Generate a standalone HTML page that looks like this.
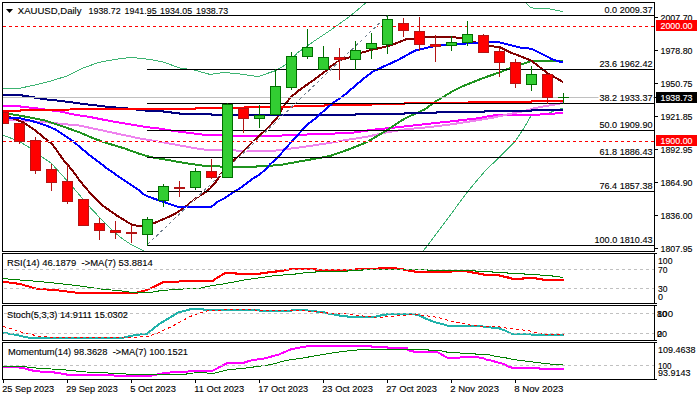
<!DOCTYPE html>
<html><head><meta charset="utf-8"><style>
html,body{margin:0;padding:0;background:#fff;width:700px;height:400px;overflow:hidden}
svg{display:block}
text{font-family:"Liberation Sans",sans-serif;stroke:currentColor;stroke-width:0.12px}
</style></head><body>
<svg width="700" height="400" viewBox="0 0 700 400">
<rect x="0" y="0" width="700" height="400" fill="#fff"/>
<defs><clipPath id="cm"><rect x="3" y="3" width="651" height="248"/></clipPath><clipPath id="cr"><rect x="3" y="254" width="651" height="49"/></clipPath><clipPath id="cs"><rect x="3" y="306" width="651" height="34"/></clipPath><clipPath id="cmo"><rect x="3" y="343" width="651" height="36"/></clipPath></defs>
<g clip-path="url(#cm)">
<polyline points="3,88.4 19,88.4 35,85 51,81 67,76 83,68 99,62.4 115,59.4 131,57.4 150,59.4 163,62 180,68 194,70 210,74.4 224,72.4 240,74 258,76.6 276,70.5 287.5,63.75 297.5,52.75 315,40.5 330.75,30 350,16.25 368,1 524,1 531,7.9 549,8.75 563,11.7" fill="none" stroke="#3cb371" stroke-width="1" stroke-linejoin="round" shape-rendering="crispEdges"/>
<polyline points="3,135.2 19,141.2 30,148 41,156.2 51,163 62,175 74,188.5 82,198 90,207.25 101,219 113,231 122,238.5 131,244.5 143,250.5 147,253 421.5,253 428,245 468,191.2 485,171 499.2,157.35 507,149.5 515,141.4 522.75,130 531.5,115 547,114 552.5,111.6 563,108.1" fill="none" stroke="#3cb371" stroke-width="1" stroke-linejoin="round" shape-rendering="crispEdges"/>
<polyline points="3,105.75 19.5,105.75 21,106.8 34.5,108 45,109.5 60,111.5 75,114.75 90,117 105,120 120,122.7 135,125.25 150,127.5 158.75,128.5 177.5,131.5 196.25,133.75 203.75,134.7 222.5,135 244,136.4 260,136.4 280,135.6 310,134.4 330,133.8 354,132.5 373,129.7 392,127.8 404,126.5 428,123.8 450,121.5 480,118 491,115.75 500,114.6 511.5,115.2 531.5,115.1 547,114 563,113" fill="none" stroke="#ff00ff" stroke-width="2" stroke-linejoin="round" shape-rendering="crispEdges"/>
<polyline points="3,119.5 30,121.25 45,122 60,123.75 80,125.6 92.5,128.4 105,131 120,134.25 140,138.5 158.75,141.6 177.5,145 196.25,148.4 205.6,149.7 222.5,149.7 244,151 260,151 276,150.5 310,146 330,142.8 348.75,139.6 367.5,136.6 386.25,132.5 404,129.5 428,127.2 450,124.5 480,119.9 495,117.25 510,113.9 525,110.9 535,108 563,103" fill="none" stroke="#ee82ee" stroke-width="2" stroke-linejoin="round" shape-rendering="crispEdges"/>
<polyline points="3,113 9,113.75 30,117.5 45,120.5 60,125.5 80,132.5 92.5,138 105,142.5 125,148.6 140,154 151.25,157.2 168,160 186.9,163.4 205.6,166 222.5,166.6 240,167 260,166.4 280,165 310,159.6 330,156 348.75,149.4 367.5,141.9 386.25,130.6 405,118.4 425,109.2 434.4,102.2 443.75,96.6 453,91 462.5,86.25 481.25,78.75 500,72.2 509.4,68.4 521,64.5 526,63 531,61 563,61" fill="none" stroke="#1f931f" stroke-width="2" stroke-linejoin="round" shape-rendering="crispEdges"/>
<polyline points="3,114 9,116.75 24,122.75 36,131 45,138.5 52.5,144.5 63.5,160 72.5,170.5 80,181 87.5,190 95,198 102.5,205.5 110,210.75 117.5,216 125,220.5 131,224.25 140,226.5 147,225.75 152.5,223.75 170,216.25 175,213.9 182.5,209 190,203 197.5,197 205,192.5 210,188.5 215,183 222,172.5 233,161 240,155 245,149.5 255,139.5 267,129 277,117.75 284,105.5 291,97 298.5,90.75 306.25,85.2 315,79 325.5,71.2 332.5,65 341.25,59.75 350.25,57.1 362.5,52.4 373,49.4 380,48 390.5,45.4 397.5,42.75 406.25,39.25 415,38.4 426,37 450,37 462,38 474,42 490,46 500,47.2 510.5,52.5 521,56.5 531.25,60.6 536.25,64.4 542.5,69.4 547.5,73.1 555,77.5 563,82" fill="none" stroke="#800000" stroke-width="2" stroke-linejoin="round" shape-rendering="crispEdges"/>
<polyline points="3,95 19.5,95 30,96.75 45,99.3 60,100.8 82.5,103.8 105,106.5 127.5,108.5 140,110 150,111 163,111 163.5,112 171,112 171.5,113 179,113 179.5,114 211,114 211.5,115 355,115 355.5,114 404,114 404.5,113 436,113 436.5,112 484,112 484.5,111 531,111 531.5,110 563,110" fill="none" stroke="#000080" stroke-width="2" stroke-linejoin="round" shape-rendering="crispEdges"/>
<polyline points="3,111 19.5,111 21,110.25 70,109.5 140,109 195.5,109 196,108 244,108 244.5,107 292,107 292.5,106 324,106 324.5,105 371,105 371.5,104 404,104 404.5,103 468,103 468.5,102 531,102 531.5,101 563,101" fill="none" stroke="#ff0000" stroke-width="2" stroke-linejoin="round" shape-rendering="crispEdges"/>
<polyline points="3,117.4 19.5,118.25 30,120.5 45,125 55.5,129.5 72.5,140.75 90,155.6 107.5,168.75 125,181 137.5,189 144.5,195 152,198 164,202 178,206.9 211.25,206.9 217.5,201.9 223.75,198.75 230,194.4 236.25,190.6 240,188.1 246.25,183.75 252.5,178.75 258.75,175 265,170 270,164.4 277.5,157.5 283.75,150.6 287.5,146.25 292.5,140.6 296.25,136.75 301.25,131.1 308.75,123.6 315,118.75 321.25,113.1 327.5,107.5 333.75,102.5 343.75,95.6 352,88.5 362.5,79.5 373,71.6 380,68.2 397.5,60.25 415,50.6 420,49.6 430,47 440,45 460,44 480,42.4 498,42 510,45 520,47.5 531.25,48.75 538.75,52.5 545,55.6 552.5,59.4 563,62.5" fill="none" stroke="#0000ff" stroke-width="2" stroke-linejoin="round" shape-rendering="crispEdges"/>
<rect x="3" y="97" width="651" height="1" fill="#c0c0c0"/>
<rect x="3" y="26" width="651" height="1" fill="#fff"/>
<line x1="3" y1="26.5" x2="654" y2="26.5" stroke="#ff0000" stroke-width="1" stroke-dasharray="3 3" stroke-dashoffset="0"/>
<rect x="3" y="141" width="651" height="1" fill="#fff"/>
<line x1="3" y1="141.5" x2="654" y2="141.5" stroke="#ff0000" stroke-width="1" stroke-dasharray="3 3" stroke-dashoffset="0"/>
<rect x="147" y="15" width="507" height="1" fill="#000"/>
<rect x="147" y="69" width="507" height="1" fill="#000"/>
<rect x="147" y="103" width="507" height="1" fill="#000"/>
<rect x="147" y="130" width="507" height="1" fill="#000"/>
<rect x="147" y="157" width="507" height="1" fill="#000"/>
<rect x="147" y="191" width="507" height="1" fill="#000"/>
<rect x="147" y="245" width="507" height="1" fill="#000"/>
<line x1="147.5" y1="244.5" x2="387.5" y2="15.5" stroke="#fff" stroke-width="1" shape-rendering="crispEdges"/>
<line x1="147.5" y1="244.5" x2="387.5" y2="15.5" stroke="#708090" stroke-width="1" stroke-dasharray="3 3" shape-rendering="crispEdges"/>
<rect x="3" y="112" width="1" height="12" fill="#b41414"/>
<rect x="-2" y="112" width="11" height="12" fill="#b41414"/>
<rect x="-1" y="113" width="9" height="10" fill="#ff0000"/>
<rect x="19" y="123" width="1" height="21" fill="#b41414"/>
<rect x="14" y="123" width="11" height="19" fill="#b41414"/>
<rect x="15" y="124" width="9" height="17" fill="#ff0000"/>
<rect x="35" y="137" width="1" height="37" fill="#b41414"/>
<rect x="30" y="140" width="11" height="31" fill="#b41414"/>
<rect x="31" y="141" width="9" height="29" fill="#ff0000"/>
<rect x="51" y="164" width="1" height="27" fill="#b41414"/>
<rect x="46" y="169" width="11" height="14" fill="#b41414"/>
<rect x="47" y="170" width="9" height="12" fill="#ff0000"/>
<rect x="67" y="164" width="1" height="40" fill="#b41414"/>
<rect x="62" y="181" width="11" height="21" fill="#b41414"/>
<rect x="63" y="182" width="9" height="19" fill="#ff0000"/>
<rect x="83" y="199" width="1" height="27" fill="#b41414"/>
<rect x="78" y="199" width="11" height="27" fill="#b41414"/>
<rect x="79" y="200" width="9" height="25" fill="#ff0000"/>
<rect x="99" y="218" width="1" height="22" fill="#b41414"/>
<rect x="94" y="223" width="11" height="8" fill="#b41414"/>
<rect x="95" y="224" width="9" height="6" fill="#ff0000"/>
<rect x="115" y="221" width="1" height="18" fill="#b41414"/>
<rect x="110" y="230" width="11" height="3" fill="#b41414"/>
<rect x="111" y="231" width="9" height="1" fill="#ff0000"/>
<rect x="131" y="225" width="1" height="18" fill="#b41414"/>
<rect x="126" y="232" width="11" height="2" fill="#b41414"/>
<rect x="147" y="217" width="1" height="29" fill="#006e00"/>
<rect x="142" y="219" width="11" height="16" fill="#006e00"/>
<rect x="143" y="220" width="9" height="14" fill="#32cd32"/>
<rect x="163" y="184" width="1" height="23" fill="#006e00"/>
<rect x="158" y="186" width="11" height="15" fill="#006e00"/>
<rect x="159" y="187" width="9" height="13" fill="#32cd32"/>
<rect x="179" y="181" width="1" height="16" fill="#b41414"/>
<rect x="174" y="187" width="11" height="2" fill="#b41414"/>
<rect x="195" y="168" width="1" height="22" fill="#006e00"/>
<rect x="190" y="171" width="11" height="17" fill="#006e00"/>
<rect x="191" y="172" width="9" height="15" fill="#32cd32"/>
<rect x="211" y="159" width="1" height="20" fill="#b41414"/>
<rect x="206" y="171" width="11" height="7" fill="#b41414"/>
<rect x="207" y="172" width="9" height="5" fill="#ff0000"/>
<rect x="227" y="103" width="1" height="75" fill="#006e00"/>
<rect x="222" y="104" width="11" height="74" fill="#006e00"/>
<rect x="223" y="105" width="9" height="72" fill="#32cd32"/>
<rect x="243" y="108" width="1" height="25" fill="#b41414"/>
<rect x="238" y="108" width="11" height="11" fill="#b41414"/>
<rect x="239" y="109" width="9" height="9" fill="#ff0000"/>
<rect x="259" y="105" width="1" height="23" fill="#006e00"/>
<rect x="254" y="115" width="11" height="4" fill="#006e00"/>
<rect x="255" y="116" width="9" height="2" fill="#32cd32"/>
<rect x="275" y="69" width="1" height="46" fill="#006e00"/>
<rect x="270" y="86" width="11" height="29" fill="#006e00"/>
<rect x="271" y="87" width="9" height="27" fill="#32cd32"/>
<rect x="291" y="52" width="1" height="38" fill="#006e00"/>
<rect x="286" y="56" width="11" height="32" fill="#006e00"/>
<rect x="287" y="57" width="9" height="30" fill="#32cd32"/>
<rect x="307" y="29" width="1" height="30" fill="#006e00"/>
<rect x="302" y="47" width="11" height="10" fill="#006e00"/>
<rect x="303" y="48" width="9" height="8" fill="#32cd32"/>
<rect x="323" y="46" width="1" height="24" fill="#006e00"/>
<rect x="318" y="57" width="11" height="13" fill="#006e00"/>
<rect x="319" y="58" width="9" height="11" fill="#32cd32"/>
<rect x="339" y="48" width="1" height="32" fill="#b41414"/>
<rect x="334" y="57" width="11" height="3" fill="#b41414"/>
<rect x="335" y="58" width="9" height="1" fill="#ff0000"/>
<rect x="355" y="41" width="1" height="29" fill="#006e00"/>
<rect x="350" y="50" width="11" height="10" fill="#006e00"/>
<rect x="351" y="51" width="9" height="8" fill="#32cd32"/>
<rect x="371" y="33" width="1" height="26" fill="#006e00"/>
<rect x="366" y="43" width="11" height="6" fill="#006e00"/>
<rect x="367" y="44" width="9" height="4" fill="#32cd32"/>
<rect x="387" y="15" width="1" height="39" fill="#006e00"/>
<rect x="382" y="19" width="11" height="26" fill="#006e00"/>
<rect x="383" y="20" width="9" height="24" fill="#32cd32"/>
<rect x="403" y="18" width="1" height="19" fill="#b41414"/>
<rect x="398" y="23" width="11" height="8" fill="#b41414"/>
<rect x="399" y="24" width="9" height="6" fill="#ff0000"/>
<rect x="419" y="17" width="1" height="34" fill="#b41414"/>
<rect x="414" y="31" width="11" height="14" fill="#b41414"/>
<rect x="415" y="32" width="9" height="12" fill="#ff0000"/>
<rect x="435" y="35" width="1" height="27" fill="#b41414"/>
<rect x="430" y="44" width="11" height="3" fill="#b41414"/>
<rect x="431" y="45" width="9" height="1" fill="#ff0000"/>
<rect x="451" y="36" width="1" height="15" fill="#006e00"/>
<rect x="446" y="42" width="11" height="4" fill="#006e00"/>
<rect x="447" y="43" width="9" height="2" fill="#32cd32"/>
<rect x="467" y="21" width="1" height="25" fill="#006e00"/>
<rect x="462" y="34" width="11" height="9" fill="#006e00"/>
<rect x="463" y="35" width="9" height="7" fill="#32cd32"/>
<rect x="483" y="34" width="1" height="19" fill="#b41414"/>
<rect x="478" y="35" width="11" height="18" fill="#b41414"/>
<rect x="479" y="36" width="9" height="16" fill="#ff0000"/>
<rect x="499" y="48" width="1" height="29" fill="#b41414"/>
<rect x="494" y="51" width="11" height="12" fill="#b41414"/>
<rect x="495" y="52" width="9" height="10" fill="#ff0000"/>
<rect x="515" y="59" width="1" height="29" fill="#b41414"/>
<rect x="510" y="62" width="11" height="22" fill="#b41414"/>
<rect x="511" y="63" width="9" height="20" fill="#ff0000"/>
<rect x="531" y="66" width="1" height="25" fill="#006e00"/>
<rect x="526" y="74" width="11" height="11" fill="#006e00"/>
<rect x="527" y="75" width="9" height="9" fill="#32cd32"/>
<rect x="547" y="74" width="1" height="30" fill="#b41414"/>
<rect x="542" y="74" width="11" height="24" fill="#b41414"/>
<rect x="543" y="75" width="9" height="22" fill="#ff0000"/>
<rect x="563" y="93" width="1" height="11" fill="#006e00"/>
<rect x="558" y="97" width="11" height="1" fill="#006e00"/>
</g>
<rect x="603.5" y="5" width="49.5" height="9" fill="#fff"/>
<text x="652.5" y="13" font-size="9.6" fill="#000" color="#000" text-anchor="end" textLength="48" lengthAdjust="spacingAndGlyphs">0.0 2009.37</text>
<rect x="598.5" y="59" width="54.5" height="9" fill="#fff"/>
<text x="652.5" y="67" font-size="9.6" fill="#000" color="#000" text-anchor="end" textLength="53" lengthAdjust="spacingAndGlyphs">23.6 1962.42</text>
<rect x="598.5" y="93" width="54.5" height="9" fill="#fff"/>
<text x="652.5" y="101" font-size="9.6" fill="#000" color="#000" text-anchor="end" textLength="53" lengthAdjust="spacingAndGlyphs">38.2 1933.37</text>
<rect x="598.5" y="120" width="54.5" height="9" fill="#fff"/>
<text x="652.5" y="128" font-size="9.6" fill="#000" color="#000" text-anchor="end" textLength="53" lengthAdjust="spacingAndGlyphs">50.0 1909.90</text>
<rect x="598.5" y="147" width="54.5" height="9" fill="#fff"/>
<text x="652.5" y="155" font-size="9.6" fill="#000" color="#000" text-anchor="end" textLength="53" lengthAdjust="spacingAndGlyphs">61.8 1886.43</text>
<rect x="598.5" y="181" width="54.5" height="9" fill="#fff"/>
<text x="652.5" y="189" font-size="9.6" fill="#000" color="#000" text-anchor="end" textLength="53" lengthAdjust="spacingAndGlyphs">76.4 1857.38</text>
<rect x="593.5" y="235" width="59.5" height="9" fill="#fff"/>
<text x="652.5" y="243" font-size="9.6" fill="#000" color="#000" text-anchor="end" textLength="58" lengthAdjust="spacingAndGlyphs">100.0 1810.43</text>
<g clip-path="url(#cr)">
<polyline points="3,281.6 20,284 36,288.6 60,290.6 76,292.6 90,293 135.7,293 147.1,290 151.4,287.9 164.3,281.7 187.1,281.4 190,281 212.9,281 215.7,278.6 224.3,273.6 225.7,273 235.7,273 236,274 260,274 260.5,273 267.1,273 268,272 275.7,272 276,271 284.3,270.5 291.4,269 315.7,269 316,270 355.7,270 356,269 378.6,269 379,268 395.7,268 396,269 403.6,269 404,270 408.6,270 409,271 414.3,271 414.5,272 451.4,272 451.5,271 467.1,271 467.5,272 472.1,272 472.5,273 478.6,273 479,274 483.6,274 484,275 499.3,275 499.5,276 503.6,276 504,277 507.9,277 508,278 511.4,278 511.5,279 522.9,279 523,278 536.4,278 536.5,279 542.1,279 542.5,280 564,280" fill="none" stroke="#ff0000" stroke-width="2" stroke-linejoin="round" shape-rendering="crispEdges"/>
<polyline points="3,278.6 20,280 40,281.6 60,283.6 80,286 90,287.5 104.3,289.5 118.6,290.5 132.9,292.5 150,292.5 161.4,290.5 175.7,289.5 190,288.5 198.6,288.5 207.1,286.5 225.7,283.5 247.1,279.5 275.7,275.5 290,274.5 295,274.5 295,273.5 302.9,273.5 303.6,272.5 315,272.5 315,271.5 347.1,271.5 347.1,270.5 362.9,270.5 362.9,269.5 427.9,269.5 427.9,270.5 475.7,270.5 475.7,271.5 492.1,271.5 492.1,272.5 507.9,272.5 507.9,273.5 524.3,273.5 524.3,274.5 540,274.5 540,275.5 552.1,275.5 552.1,276.5 560,276.5 560,277.5 563,277.5" fill="none" stroke="#008000" stroke-width="1" stroke-linejoin="round" shape-rendering="crispEdges"/>
<line x1="3" y1="269.5" x2="654" y2="269.5" stroke="#c0c0c0" stroke-width="1" stroke-dasharray="3 3" stroke-dashoffset="-1"/>
<line x1="3" y1="288.5" x2="654" y2="288.5" stroke="#c0c0c0" stroke-width="1" stroke-dasharray="3 3" stroke-dashoffset="-1"/>
</g>
<g clip-path="url(#cs)">
<polyline points="3,333 12,334 30,338 60,338.4 120,338.4 130,336 136,335 147,333.7 158.6,324.4 178.6,312.3 190,309.4 201.4,309 207,310.4 230,310 259.3,310 260,311 291.4,311 292,309.6 307.1,309.6 308,310.6 315.7,311 316.4,312 324.3,312.3 330,314.1 334.3,314.1 335,315.1 339.3,315.1 340,316.1 347.1,316.1 348,317.3 375.7,317 377.1,316.1 387.1,314.4 411.4,313.7 418.6,315.1 424.3,318 434,322 446,325 448,326 482,326 484,327 498,328 506,331 512,334 530,334 532,335 564,335" fill="none" stroke="#20b2aa" stroke-width="2" stroke-linejoin="round" shape-rendering="crispEdges"/>
<polyline points="3,326.4 12,329 24,333 40,336.4 60,337.6 100,337.6 124,337 130,337.3 147.1,336.6 158.6,332.7 172.9,325.9 190,316.6 201.4,312.3 207.1,310.9 230,309.4 258.6,310.1 291.4,310.4 301.4,310.1 307.1,311.3 315.7,311.6 330,313.3 344.3,313.3 351.4,314.4 358.6,315.6 377.1,317.3 391.4,316.6 401.4,315.6 415.7,314.4 430,316.3 438,317.4 450,321 460,323 470,325 486,326.6 498,326.6 506,328 516,329 530,331 542,334 564,335" fill="none" stroke="#ff0000" stroke-width="1" stroke-linejoin="round" shape-rendering="crispEdges" stroke-dasharray="3 3"/>
<line x1="3" y1="313.5" x2="654" y2="313.5" stroke="#c0c0c0" stroke-width="1" stroke-dasharray="3 3" stroke-dashoffset="-1"/>
<line x1="3" y1="333.5" x2="654" y2="333.5" stroke="#c0c0c0" stroke-width="1" stroke-dasharray="3 3" stroke-dashoffset="-1"/>
</g>
<g clip-path="url(#cmo)">
<polyline points="3,367.4 18.6,367.4 24.3,368.4 30,369.9 35.7,371.3 51.4,372 60,373.4 67.1,374.6 75.7,375.3 100,375.3 108.6,375 114.3,375.5 122.9,375.5 123.6,376.3 151.4,376.3 152.1,375.1 160,374.1 164.3,372.7 185.7,372 191.4,370.6 212.9,370.6 227.1,363.1 242.9,363.1 250,360.6 264.3,358.4 278.6,354.6 291.4,349.1 302.9,347 308.6,346 371.4,346 372.1,347 387.1,347 387.9,348 400,348 407.1,348.4 408.6,350.3 415.7,352 437.1,352 448.6,358.4 457.1,358.4 461.4,357 475.7,357 482.9,358 487.1,359.9 491.4,360.6 498.6,362.7 504.3,364.1 508.6,366.6 512.9,368 539.3,368 540,369 564,369" fill="none" stroke="#ff00ff" stroke-width="2" stroke-linejoin="round" shape-rendering="crispEdges"/>
<polyline points="3,366.5 25.7,366.5 28.6,367.5 42.9,368.5 60,369.5 71.4,370.5 80,371.5 92.9,372.5 107.1,372.5 108.6,373.5 142.9,374.5 185.7,374.5 187.1,373.5 200,372.5 213.6,373.5 228.6,369.5 242.9,368.5 257.1,366.5 271.4,364.5 285.7,360.5 300,358.5 311.4,356.5 328.6,353.5 342.9,351.5 351.4,350.5 362.9,349.5 363.6,349.5 428.6,349.5 428.6,350.5 440,350.5 448.6,352.5 460,352.5 460,353.5 475.7,353.5 475.7,354.5 487.9,354.5 495.7,356.5 504.3,357.5 512.9,359.5 521.4,360.5 528.6,361.5 537.1,362.5 544.3,363.5 555.7,364.5 562.9,364.5" fill="none" stroke="#008000" stroke-width="1" stroke-linejoin="round" shape-rendering="crispEdges"/>
<line x1="3" y1="365.5" x2="654" y2="365.5" stroke="#c0c0c0" stroke-width="1" stroke-dasharray="3 3" stroke-dashoffset="-1"/>
</g>
<rect x="2" y="2" width="653" height="1" fill="#000"/>
<rect x="2" y="251" width="653" height="1" fill="#000"/>
<rect x="2" y="2" width="1" height="250" fill="#000"/>
<rect x="654" y="2" width="1" height="250" fill="#000"/>
<rect x="2" y="253" width="653" height="1" fill="#000"/>
<rect x="2" y="303" width="653" height="1" fill="#000"/>
<rect x="2" y="253" width="1" height="51" fill="#000"/>
<rect x="654" y="253" width="1" height="51" fill="#000"/>
<rect x="2" y="305" width="653" height="1" fill="#000"/>
<rect x="2" y="340" width="653" height="1" fill="#000"/>
<rect x="2" y="305" width="1" height="36" fill="#000"/>
<rect x="654" y="305" width="1" height="36" fill="#000"/>
<rect x="2" y="342" width="653" height="1" fill="#000"/>
<rect x="2" y="379" width="653" height="1" fill="#000"/>
<rect x="2" y="342" width="1" height="38" fill="#000"/>
<rect x="654" y="342" width="1" height="38" fill="#000"/>
<rect x="655" y="17" width="3" height="1" fill="#000"/>
<text x="660.5" y="21" font-size="9.6" fill="#000" color="#000" text-anchor="start" textLength="32" lengthAdjust="spacingAndGlyphs">2007.70</text>
<rect x="655" y="50" width="3" height="1" fill="#000"/>
<text x="660.5" y="54" font-size="9.6" fill="#000" color="#000" text-anchor="start" textLength="32" lengthAdjust="spacingAndGlyphs">1978.80</text>
<rect x="655" y="83" width="3" height="1" fill="#000"/>
<text x="660.5" y="87" font-size="9.6" fill="#000" color="#000" text-anchor="start" textLength="32" lengthAdjust="spacingAndGlyphs">1950.75</text>
<rect x="655" y="116" width="3" height="1" fill="#000"/>
<text x="660.5" y="120" font-size="9.6" fill="#000" color="#000" text-anchor="start" textLength="32" lengthAdjust="spacingAndGlyphs">1921.85</text>
<rect x="655" y="149" width="3" height="1" fill="#000"/>
<text x="660.5" y="153" font-size="9.6" fill="#000" color="#000" text-anchor="start" textLength="32" lengthAdjust="spacingAndGlyphs">1892.95</text>
<rect x="655" y="182" width="3" height="1" fill="#000"/>
<text x="660.5" y="186" font-size="9.6" fill="#000" color="#000" text-anchor="start" textLength="32" lengthAdjust="spacingAndGlyphs">1864.90</text>
<rect x="655" y="215" width="3" height="1" fill="#000"/>
<text x="660.5" y="219" font-size="9.6" fill="#000" color="#000" text-anchor="start" textLength="32" lengthAdjust="spacingAndGlyphs">1836.00</text>
<rect x="655" y="248" width="3" height="1" fill="#000"/>
<text x="660.5" y="252" font-size="9.6" fill="#000" color="#000" text-anchor="start" textLength="32" lengthAdjust="spacingAndGlyphs">1807.95</text>
<rect x="656" y="20" width="41" height="11" fill="#ff0000"/>
<text x="660.5" y="29" font-size="9.6" fill="#fff" color="#fff" text-anchor="start" textLength="32" lengthAdjust="spacingAndGlyphs">2000.00</text>
<rect x="656" y="135" width="41" height="11" fill="#ff0000"/>
<text x="660.5" y="144" font-size="9.6" fill="#fff" color="#fff" text-anchor="start" textLength="32" lengthAdjust="spacingAndGlyphs">1900.00</text>
<rect x="656" y="92" width="41" height="11" fill="#000"/>
<text x="660.5" y="101" font-size="9.6" fill="#fff" color="#fff" text-anchor="start" textLength="32" lengthAdjust="spacingAndGlyphs">1938.73</text>
<rect x="655" y="97" width="3" height="1" fill="#000"/>
<text x="658" y="264" font-size="9.6" fill="#000" color="#000" text-anchor="start" textLength="14.5" lengthAdjust="spacingAndGlyphs">100</text>
<text x="658" y="273" font-size="9.6" fill="#000" color="#000" text-anchor="start" textLength="9.5" lengthAdjust="spacingAndGlyphs">70</text>
<text x="658" y="292" font-size="9.6" fill="#000" color="#000" text-anchor="start" textLength="9.5" lengthAdjust="spacingAndGlyphs">30</text>
<text x="658" y="300" font-size="9.6" fill="#000" color="#000" text-anchor="start" textLength="5" lengthAdjust="spacingAndGlyphs">0</text>
<text x="657" y="317" font-size="9.6" fill="#000" color="#000" text-anchor="start" textLength="16" lengthAdjust="spacingAndGlyphs">100</text>
<text x="657" y="317" font-size="9.6" fill="#000" color="#000" text-anchor="start" textLength="10" lengthAdjust="spacingAndGlyphs">80</text>
<text x="657" y="337" font-size="9.6" fill="#000" color="#000" text-anchor="start" textLength="10" lengthAdjust="spacingAndGlyphs">20</text>
<text x="657" y="337" font-size="9.6" fill="#000" color="#000" text-anchor="start" textLength="5" lengthAdjust="spacingAndGlyphs">0</text>
<text x="658" y="353" font-size="9.6" fill="#000" color="#000" text-anchor="start" textLength="37.5" lengthAdjust="spacingAndGlyphs">109.4638</text>
<text x="658" y="369" font-size="9.6" fill="#000" color="#000" text-anchor="start" textLength="13.5" lengthAdjust="spacingAndGlyphs">100</text>
<text x="658" y="375.5" font-size="9.6" fill="#000" color="#000" text-anchor="start" textLength="32.5" lengthAdjust="spacingAndGlyphs">93.9143</text>
<rect x="655" y="253" width="2" height="1" fill="#000"/>
<rect x="655" y="303" width="2" height="1" fill="#000"/>
<rect x="655" y="305" width="2" height="1" fill="#000"/>
<rect x="655" y="340" width="2" height="1" fill="#000"/>
<rect x="655" y="342" width="2" height="1" fill="#000"/>
<rect x="655" y="379" width="2" height="1" fill="#000"/>
<rect x="3" y="380" width="1" height="3" fill="#000"/>
<text x="2.2" y="392" font-size="9.6" fill="#000" color="#000" text-anchor="start" textLength="52" lengthAdjust="spacingAndGlyphs">25 Sep 2023</text>
<rect x="67" y="380" width="1" height="3" fill="#000"/>
<text x="66.2" y="392" font-size="9.6" fill="#000" color="#000" text-anchor="start" textLength="51.5" lengthAdjust="spacingAndGlyphs">29 Sep 2023</text>
<rect x="131" y="380" width="1" height="3" fill="#000"/>
<text x="130.2" y="392" font-size="9.6" fill="#000" color="#000" text-anchor="start" textLength="45.8" lengthAdjust="spacingAndGlyphs">5 Oct 2023</text>
<rect x="195" y="380" width="1" height="3" fill="#000"/>
<text x="194.2" y="392" font-size="9.6" fill="#000" color="#000" text-anchor="start" textLength="50" lengthAdjust="spacingAndGlyphs">11 Oct 2023</text>
<rect x="259" y="380" width="1" height="3" fill="#000"/>
<text x="258.2" y="392" font-size="9.6" fill="#000" color="#000" text-anchor="start" textLength="50" lengthAdjust="spacingAndGlyphs">17 Oct 2023</text>
<rect x="323" y="380" width="1" height="3" fill="#000"/>
<text x="322.2" y="392" font-size="9.6" fill="#000" color="#000" text-anchor="start" textLength="50.8" lengthAdjust="spacingAndGlyphs">23 Oct 2023</text>
<rect x="387" y="380" width="1" height="3" fill="#000"/>
<text x="386.2" y="392" font-size="9.6" fill="#000" color="#000" text-anchor="start" textLength="50.75" lengthAdjust="spacingAndGlyphs">27 Oct 2023</text>
<rect x="451" y="380" width="1" height="3" fill="#000"/>
<text x="450.2" y="392" font-size="9.6" fill="#000" color="#000" text-anchor="start" textLength="48.75" lengthAdjust="spacingAndGlyphs">2 Nov 2023</text>
<rect x="515" y="380" width="1" height="3" fill="#000"/>
<text x="514.2" y="392" font-size="9.6" fill="#000" color="#000" text-anchor="start" textLength="49.25" lengthAdjust="spacingAndGlyphs">8 Nov 2023</text>
<polygon points="6,9 13,9 9.5,13" fill="#000"/>
<text x="17.8" y="14" font-size="9.6" fill="#000" color="#000" text-anchor="start" textLength="63.7" lengthAdjust="spacingAndGlyphs">XAUUSD,Daily</text>
<text x="88.6" y="14" font-size="9.6" fill="#000" color="#000" text-anchor="start" textLength="32" lengthAdjust="spacingAndGlyphs">1938.72</text>
<text x="124.6" y="14" font-size="9.6" fill="#000" color="#000" text-anchor="start" textLength="32" lengthAdjust="spacingAndGlyphs">1941.95</text>
<text x="160.1" y="14" font-size="9.6" fill="#000" color="#000" text-anchor="start" textLength="32" lengthAdjust="spacingAndGlyphs">1934.05</text>
<text x="196.1" y="14" font-size="9.6" fill="#000" color="#000" text-anchor="start" textLength="32" lengthAdjust="spacingAndGlyphs">1938.73</text>
<text x="7" y="266.2" font-size="9.6" fill="#000" color="#000" text-anchor="start" textLength="145.7" lengthAdjust="spacingAndGlyphs">RSI(14) 46.1879&#160;&#160;-&gt;MA(7) 53.8814</text>
<text x="7" y="318" font-size="9.6" fill="#000" color="#000" text-anchor="start" textLength="121" lengthAdjust="spacingAndGlyphs">Stoch(5,3,3) 14.9111 15.0302</text>
<text x="8" y="355" font-size="9.6" fill="#000" color="#000" text-anchor="start" textLength="180" lengthAdjust="spacingAndGlyphs">Momentum(14) 98.3628&#160;&#160;-&gt;MA(7) 100.1521</text>
</svg></body></html>
